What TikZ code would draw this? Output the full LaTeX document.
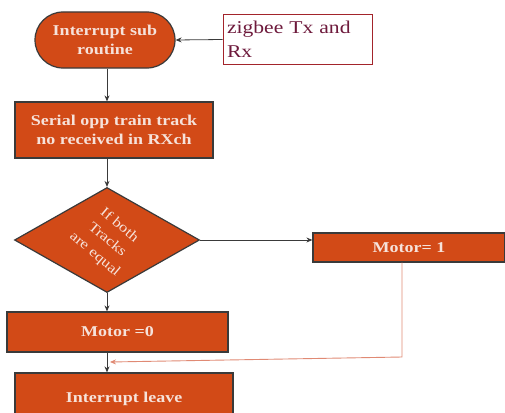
\documentclass[tikz,border=0pt]{standalone}
\usepackage{fontspec}
\setmainfont{Liberation Serif}
\newfontfamily\flowfont[FakeStretch=1.2]{Liberation Serif}
\usetikzlibrary{calc,arrows.meta,shapes.geometric}
\definecolor{flowFill}{HTML}{D24A17}
\definecolor{flowEdge}{HTML}{3A3A3A}
\definecolor{flowText}{HTML}{F6E2DA}
\definecolor{flowNote}{HTML}{A3242B}
\definecolor{flowNoteText}{HTML}{6E1A3C}
\definecolor{flowReturn}{HTML}{E08A74}

\begin{document}
\begin{tikzpicture}[
    x=1pt,y=-1pt,
    >={Stealth[length=6pt,width=5pt]},
    line width=0.8pt,
    every node/.style={font=\flowfont\fontsize{15}{20}\selectfont},
    block/.style={draw=flowEdge,line width=1.2pt,fill=flowFill,text=flowText,
      align=center,inner sep=0pt,font=\flowfont\bfseries\fontsize{15}{19}\selectfont},
    note/.style={draw=flowNote,line width=1pt,fill=white,text=flowNoteText,
      align=left,inner sep=4pt,font=\flowfont\fontsize{18}{24}\selectfont},
  ]
  \useasboundingbox (0,0) rectangle (505,412);

  % Start and input
  \node[block,rounded corners=28pt,minimum width=140pt,minimum height=56pt]
    (start) at (105,40) {Interrupt sub\\routine};
  \node[note,minimum width=149pt,minimum height=49pt,text width=141pt]
    (zigbee) at (297.5,39.5) {zigbee Tx and\\Rx};
  \draw[->,flowEdge] (zigbee.west) -- (start.east);

  % Read track number
  \node[block,minimum width=198pt,minimum height=56pt]
    (serial) at (114,130) {Serial opp train track\\no received in RXch};
  \draw[->,flowEdge] (start.south -| 107,0) -- (serial.north -| 107,0);

  % Decision
  \node[block,diamond,minimum width=185pt,minimum height=105pt]
    (cond) at (107,240) {};
  \node[text=flowText,align=center,rotate=-40,font=\flowfont\fontsize{14}{19}\selectfont]
    (condtext) at (cond.center) {If both\\Tracks\\are equal};
  \draw[->,flowEdge] (serial.south -| cond.north) -- (cond.north);

  % Outcomes
  \node[block,minimum width=192pt,minimum height=29pt]
    (motor1) at (409,247.5) {Motor= 1};
  \node[block,minimum width=221pt,minimum height=40pt]
    (motor0) at (117.5,332) {Motor =0};
  \node[block,minimum width=218pt,minimum height=52pt]
    (leave) at (124,399) {Interrupt leave};
  \draw[->,flowEdge] (cond.east) -- (motor1.west |- cond.east);
  \draw[->,flowEdge] (cond.south) -- (motor0.north -| cond.south);
  \draw[->,flowEdge] (motor0.south -| cond.south) -- (leave.north -| cond.south);

  % Return path from Motor= 1
  \coordinate (corner) at (402,357);
  \coordinate (merge) at (110,362);
  \draw[->,flowReturn,line width=0.9pt] (motor1.south -| corner) -- (corner) -- (merge);
\end{tikzpicture}
\end{document}
